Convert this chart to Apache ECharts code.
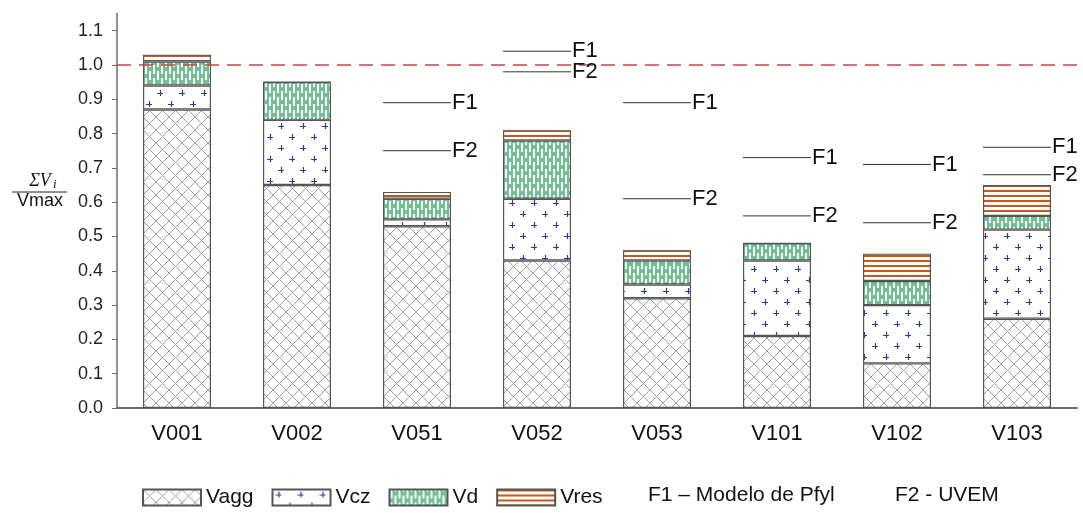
<!DOCTYPE html>
<html>
<head>
<meta charset="utf-8">
<script src="https://cdn.jsdelivr.net/npm/echarts@6/dist/echarts.min.js"></script>
<style>html,body{margin:0;padding:0;background:#fff}#main{width:1083px;height:513px}</style>
</head>
<body>
<div id="main"></div>
<script>
var categories = ['V001','V002','V051','V052','V053','V101','V102','V103'];
var vaggData = [0.87, 0.65, 0.53, 0.43, 0.32, 0.21, 0.13, 0.26];
var vczData  = [0.07, 0.19, 0.02, 0.18, 0.04, 0.22, 0.17, 0.26];
var vdData   = [0.07, 0.11, 0.06, 0.17, 0.07, 0.05, 0.07, 0.04];
var vresData = [0.02, 0,    0.02, 0.03, 0.03, 0,    0.08, 0.09];
var f1Values = [null, null, 0.89, 1.04, 0.89, 0.73, 0.71, 0.76];
var f2Values = [null, null, 0.75, 0.98, 0.61, 0.56, 0.54, 0.68];
var yTicks = [0, 0.1, 0.2, 0.3, 0.4, 0.5, 0.6, 0.7, 0.8, 0.9, 1.0, 1.1];
var limitValue = 1.0;

var FONT = '"Liberation Sans", Arial, sans-serif';

function makeTile(w, h, draw) {
    var c = document.createElement('canvas');
    c.width = w; c.height = h;
    var ctx = c.getContext('2d');
    ctx.fillStyle = '#fff';
    ctx.fillRect(0, 0, w, h);
    draw(ctx, w, h);
    return {image: c, repeat: 'repeat'};
}

var aggPattern = makeTile(13, 13, function (ctx, w, h) {
    ctx.strokeStyle = '#a0a0a0';
    ctx.lineWidth = 1;
    ctx.beginPath();
    ctx.moveTo(0, 0); ctx.lineTo(w, h);
    ctx.moveTo(w, 0); ctx.lineTo(0, h);
    ctx.stroke();
});
var czPattern = makeTile(22, 22, function (ctx) {
    ctx.strokeStyle = '#2f3c8c';
    ctx.lineWidth = 1.2;
    [[6, 5], [17, 16]].forEach(function (p) {
        ctx.beginPath();
        ctx.moveTo(p[0] - 3, p[1] + 0.5); ctx.lineTo(p[0] + 3, p[1] + 0.5);
        ctx.moveTo(p[0] + 0.5, p[1] - 3); ctx.lineTo(p[0] + 0.5, p[1] + 3);
        ctx.stroke();
    });
});
var dPattern = makeTile(8, 13, function (ctx) {
    ctx.fillStyle = '#72bf96';
    ctx.fillRect(0, 0, 8, 13);
    ctx.fillStyle = '#ffffff';
    ctx.fillRect(1, 0, 2, 9);
    ctx.fillRect(5, 6, 2, 7);
    ctx.fillRect(5, 0, 2, 2);
});
var resPattern = makeTile(4, 5, function (ctx) {
    ctx.fillStyle = '#c5581c';
    ctx.fillRect(0, 0, 4, 2);
});

function pairs(values) {
    var out = [];
    values.forEach(function (v, i) { if (v != null) out.push([i, v]); });
    return out;
}

function renderMark(params, api) {
    var p = api.coord([api.value(0), api.value(1)]);
    var half = 34;
    return {
        type: 'group',
        children: [
            {type: 'line', shape: {x1: p[0] - half, y1: p[1], x2: p[0] + half, y2: p[1]},
             style: {stroke: '#333', lineWidth: 1}},
            {type: 'text', x: p[0] + half + 1, y: p[1],
             style: {text: params.seriesName, font: '22px ' + FONT, fill: '#111',
                     align: 'left', verticalAlign: 'middle'}}
        ]
    };
}

var barStyle = function (pattern) {
    return {color: pattern, borderColor: '#555', borderWidth: 1.2};
};

var chart = echarts.init(document.getElementById('main'));
var option = {
    animation: false,
    backgroundColor: '#fff',
    grid: {left: 117, top: 13.5, width: 960, bottom: 105},
    legend: {
        data: ['Vagg', 'Vcz', 'Vd', 'Vres'],
        icon: 'rect',
        left: 142, top: 487, padding: 0,
        itemWidth: 58, itemHeight: 16, itemGap: 18,
        textStyle: {fontSize: 21, fontFamily: FONT, color: '#111'}
    },
    graphic: [
        {type: 'text', left: 648, top: 485, style: {text: 'F1 – Modelo de Pfyl', font: '21px ' + FONT, fill: '#111'}},
        {type: 'text', left: 895, top: 485, style: {text: 'F2 - UVEM', font: '21px ' + FONT, fill: '#111'}},
        {type: 'text', x: 40, y: 181, style: {text: 'ΣV', font: 'italic 18px "Liberation Serif", serif', fill: '#111', align: 'center', verticalAlign: 'middle'}},
        {type: 'text', x: 53, y: 185, style: {text: 'i', font: 'italic 13px "Liberation Serif", serif', fill: '#111', align: 'left', verticalAlign: 'middle'}},
        {type: 'line', shape: {x1: 12, y1: 192, x2: 67, y2: 192}, style: {stroke: '#222', lineWidth: 1}},
        {type: 'text', x: 40, y: 201, style: {text: 'Vmax', font: '18px ' + FONT, fill: '#111', align: 'center', verticalAlign: 'middle'}}
    ],
    xAxis: {
        type: 'category',
        data: categories,
        axisTick: {show: false},
        axisLine: {lineStyle: {color: '#6b6b6b', width: 2}},
        axisLabel: {fontSize: 22, fontFamily: FONT, color: '#111', margin: 15}
    },
    yAxis: {
        type: 'value',
        min: 0, max: 1.15, interval: 0.1,
        splitLine: {show: false},
        axisLine: {show: true, lineStyle: {color: '#6b6b6b', width: 1.5}},
        axisTick: {show: true, length: 5, customValues: yTicks, lineStyle: {color: '#6b6b6b'}},
        axisLabel: {customValues: yTicks, fontSize: 18, fontFamily: FONT, color: '#222', margin: 14,
                    formatter: function (v) { return v.toFixed(1); }}
    },
    series: [
        {name: 'Vagg', type: 'bar', stack: 'total', barWidth: 68, data: vaggData, itemStyle: barStyle(aggPattern),
         markLine: {silent: true, symbol: 'none', label: {show: false},
                    lineStyle: {color: '#c9453f', type: [14, 8], width: 1.5},
                    data: [{yAxis: limitValue}]}},
        {name: 'Vcz', type: 'bar', stack: 'total', barWidth: 68, data: vczData, itemStyle: barStyle(czPattern)},
        {name: 'Vd', type: 'bar', stack: 'total', barWidth: 68, data: vdData, itemStyle: barStyle(dPattern)},
        {name: 'Vres', type: 'bar', stack: 'total', barWidth: 68, data: vresData, itemStyle: barStyle(resPattern)},
        {name: 'F1', type: 'custom', renderItem: renderMark, data: pairs(f1Values), z: 5, encode: {x: 0, y: 1}},
        {name: 'F2', type: 'custom', renderItem: renderMark, data: pairs(f2Values), z: 5, encode: {x: 0, y: 1}}
    ]
};
chart.setOption(option);
</script>
</body>
</html>
